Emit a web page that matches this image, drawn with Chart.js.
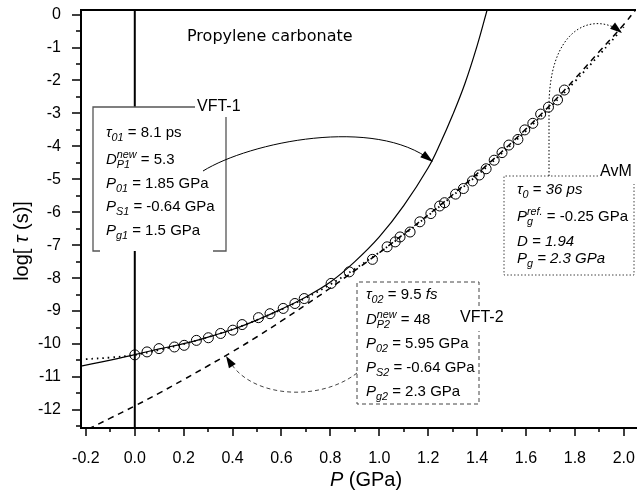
<!DOCTYPE html>
<html>
<head>
<meta charset="utf-8">
<script src="https://cdn.jsdelivr.net/npm/chart.js@4.4.1/dist/chart.umd.min.js"></script>
<style>
  html, body { margin: 0; padding: 0; background: #fff; }
  canvas { display: block; }
</style>
</head>
<body>
<canvas id="chart" width="642" height="493"></canvas>
<script>
'use strict';

// measured points (pressure in GPa, log10 tau in s)
const pData = [0.000, 0.050, 0.099, 0.162, 0.202, 0.252, 0.301, 0.351, 0.401, 0.439, 0.506, 0.553, 0.607, 0.655, 0.693, 0.803, 0.877,
    0.972, 1.032, 1.065, 1.085, 1.126, 1.166, 1.211, 1.247, 1.267, 1.312, 1.344, 1.381, 1.409, 1.437, 1.470, 1.502, 1.530, 1.567,
    1.595, 1.628, 1.660, 1.692, 1.729, 1.757];
const logTauData = [-10.33, -10.24, -10.14, -10.09, -10.04, -9.89, -9.81, -9.68, -9.58, -9.41, -9.20, -9.08, -8.92, -8.77, -8.62, -8.16, -7.81,
    -7.43, -7.05, -6.90, -6.75, -6.60, -6.29, -6.04, -5.81, -5.71, -5.45, -5.28, -5.05, -4.87, -4.68, -4.42, -4.19, -3.96, -3.79,
    -3.50, -3.30, -3.02, -2.81, -2.59, -2.29];

// VFT-1 fit (solid)
const pVft1 = [-0.22, -0.1, 0.0, 0.1, 0.2, 0.3, 0.4, 0.5, 0.6, 0.7, 0.8, 0.9, 1.0, 1.1, 1.2, 1.25, 1.3, 1.35, 1.4, 1.441];
const logVft1 = [-10.67, -10.49, -10.32, -10.15, -9.99, -9.79, -9.56, -9.27, -8.94, -8.57, -8.12, -7.5, -6.75, -5.8, -4.65, -3.9, -3.05, -2.1, -0.95, 0.14];

// VFT-2 fit (dashed)
const pVft2 = [-0.19, -0.1, 0.0, 0.1, 0.2, 0.3, 0.4, 0.5, 0.6, 0.7, 0.8, 0.9, 1.0, 1.1, 1.2, 1.3, 1.4, 1.5, 1.6, 1.7, 1.8, 1.9, 2.0, 2.05];
const logVft2 = [-12.58, -12.25, -11.88, -11.49, -11.08, -10.66, -10.23, -9.78, -9.3, -8.81, -8.3, -7.77, -7.23, -6.66, -6.08, -5.47, -4.83, -4.17, -3.47, -2.74, -1.95, -1.12, -0.3, 0.16];

// AvM fit (dotted)
const pAvm = [-0.2, -0.1, 0.0, 0.1, 0.2, 0.3, 0.4, 0.5, 0.6, 0.7, 0.8, 0.9, 1.0, 1.1, 1.2, 1.3, 1.4, 1.5, 1.6, 1.7, 1.8, 1.9, 2.0];
const logAvm = [-10.46, -10.41, -10.33, -10.18, -10.0, -9.79, -9.55, -9.27, -8.95, -8.6, -8.19, -7.72, -7.22, -6.68, -6.1, -5.5, -4.88, -4.22, -3.53, -2.8, -2.03, -1.22, -0.38];

const xTicks = [-0.2, 0.0, 0.2, 0.4, 0.6, 0.8, 1.0, 1.2, 1.4, 1.6, 1.8, 2.0];
const xMinor = [-0.1, 0.1, 0.3, 0.5, 0.7, 0.9, 1.1, 1.3, 1.5, 1.7, 1.9];
const yTicks = [0, -1, -2, -3, -4, -5, -6, -7, -8, -9, -10, -11, -12];
const yMinor = [-0.5, -1.5, -2.5, -3.5, -4.5, -5.5, -6.5, -7.5, -8.5, -9.5, -10.5, -11.5, -12.5];

const X_MIN = -0.22, X_MAX = 2.05;
const Y_MIN = -12.55, Y_MAX = 0.14;

const FONT = '"Liberation Sans", Arial, sans-serif';
const zip = (xs, ys) => xs.map((x, i) => ({ x, y: ys[i] }));

function drawRich(ctx, x, y, parts, size) {
    let cx = x;
    const small = size * 0.72;
    for (const [txt, kind] of parts) {
        if (kind === 'st') {
            const [sup, sub] = txt.split('|');
            ctx.font = `italic ${small}px ${FONT}`;
            ctx.fillText(sup, cx, y - size * 0.36);
            ctx.fillText(sub, cx, y + size * 0.34);
            cx += Math.max(ctx.measureText(sup).width, ctx.measureText(sub).width);
        } else if (kind === 'b') {
            ctx.font = `italic ${small}px ${FONT}`;
            ctx.fillText(txt, cx, y + size * 0.34);
            cx += ctx.measureText(txt).width;
        } else {
            ctx.font = `${kind === 'i' ? 'italic ' : ''}${size}px ${FONT}`;
            ctx.fillText(txt, cx, y);
            cx += ctx.measureText(txt).width;
        }
    }
    return cx;
}

function arrowHead(ctx, fx, fy, tx, ty, len, half) {
    const a = Math.atan2(ty - fy, tx - fx);
    ctx.beginPath();
    ctx.moveTo(tx, ty);
    ctx.lineTo(tx - len * Math.cos(a) + half * Math.sin(a), ty - len * Math.sin(a) - half * Math.cos(a));
    ctx.lineTo(tx - len * Math.cos(a) - half * Math.sin(a), ty - len * Math.sin(a) + half * Math.cos(a));
    ctx.closePath();
    ctx.fill();
}

const vft1Lines = [
    [['τ', 'i'], ['01', 'b'], [' = 8.1 ps', 'n']],
    [['D', 'i'], ['new|P1', 'st'], [' = 5.3', 'n']],
    [['P', 'i'], ['01', 'b'], [' = 1.85 GPa', 'n']],
    [['P', 'i'], ['S1', 'b'], [' = -0.64 GPa', 'n']],
    [['P', 'i'], ['g1', 'b'], [' = 1.5 GPa', 'n']]
];
const vft2Lines = [
    [['τ', 'i'], ['02', 'b'], [' = 9.5 ', 'n'], ['fs', 'i']],
    [['D', 'i'], ['new|P2', 'st'], [' = 48', 'n']],
    [['P', 'i'], ['02', 'b'], [' = 5.95 GPa', 'n']],
    [['P', 'i'], ['S2', 'b'], [' = -0.64 GPa', 'n']],
    [['P', 'i'], ['g2', 'b'], [' = 2.3 GPa', 'n']]
];
const avmLines = [
    [['τ', 'i'], ['0', 'b'], [' = ', 'n'], ['36 ps', 'i']],
    [['P', 'i'], ['ref.|g', 'st'], [' = -0.25 GPa', 'n']],
    [['D = 1.94', 'i']],
    [['P', 'i'], ['g', 'b'], [' = 2.3 GPa', 'i']]
];

const decor = {
    id: 'decor',
    afterDatasetsDraw(chart) {
        const ctx = chart.ctx;
        ctx.save();
        ctx.textBaseline = 'middle';
        ctx.textAlign = 'left';

        // VFT-1 box
        ctx.fillStyle = '#fff';
        ctx.fillRect(93, 107, 133, 144);
        ctx.strokeStyle = '#555';
        ctx.lineWidth = 1.3;
        ctx.beginPath();
        ctx.moveTo(100, 251); ctx.lineTo(93, 251); ctx.lineTo(93, 107); ctx.lineTo(195, 107);
        ctx.moveTo(226, 117); ctx.lineTo(226, 251); ctx.lineTo(213, 251);
        ctx.stroke();
        ctx.fillStyle = '#000';
        ctx.font = `16px ${FONT}`;
        ctx.fillText('VFT-1', 197, 107);
        [133, 160, 184, 207, 231].forEach((y, i) => drawRich(ctx, 106, y, vft1Lines[i], 15));

        // arrow VFT-1 -> solid curve
        ctx.strokeStyle = '#000';
        ctx.lineWidth = 1;
        ctx.beginPath();
        ctx.moveTo(203, 171);
        ctx.bezierCurveTo(250, 142, 375, 116, 432, 161);
        ctx.stroke();
        arrowHead(ctx, 412, 146, 433, 162, 13, 4);

        // VFT-2 box
        ctx.fillStyle = '#fff';
        ctx.fillRect(357, 282, 122, 122);
        ctx.strokeStyle = '#444';
        ctx.lineWidth = 1;
        ctx.setLineDash([4, 3]);
        ctx.beginPath();
        ctx.moveTo(479, 306); ctx.lineTo(479, 282); ctx.lineTo(357, 282); ctx.lineTo(357, 404); ctx.lineTo(479, 404); ctx.lineTo(479, 331);
        ctx.stroke();
        // dashed arrow to VFT-2 curve
        ctx.beginPath();
        ctx.moveTo(357, 373);
        ctx.bezierCurveTo(320, 402, 252, 398, 230, 362);
        ctx.stroke();
        ctx.setLineDash([]);
        ctx.fillStyle = '#000';
        arrowHead(ctx, 236, 372, 226, 356, 12, 4);
        ctx.font = `16px ${FONT}`;
        ctx.fillText('VFT-2', 460, 318);
        [295, 320, 344, 368, 392].forEach((y, i) => drawRich(ctx, 366, y, vft2Lines[i], 15));

        // AvM box
        ctx.fillStyle = '#fff';
        ctx.fillRect(504, 176, 130, 99);
        ctx.strokeStyle = '#444';
        ctx.lineWidth = 1;
        ctx.setLineDash([1.5, 2]);
        ctx.beginPath();
        ctx.moveTo(598, 176); ctx.lineTo(504, 176); ctx.lineTo(504, 275); ctx.lineTo(634, 275); ctx.lineTo(634, 184);
        ctx.stroke();
        // dotted arrow to AvM curve
        ctx.strokeStyle = '#000';
        ctx.beginPath();
        ctx.moveTo(549, 176);
        ctx.lineTo(549, 110);
        ctx.bezierCurveTo(548, 30, 590, 12, 619, 30);
        ctx.stroke();
        ctx.setLineDash([]);
        ctx.fillStyle = '#000';
        arrowHead(ctx, 608, 22, 622, 33, 12, 4);
        ctx.font = `16px ${FONT}`;
        ctx.fillText('AvM', 600, 172);
        [190, 217, 242, 259].forEach((y, i) => drawRich(ctx, 517, y, avmLines[i], 15));

        ctx.restore();
    },
    afterDraw(chart) {
        const ctx = chart.ctx;
        const { left, right, top, bottom } = chart.chartArea;
        const xs = chart.scales.x, ys = chart.scales.y;
        ctx.save();
        ctx.strokeStyle = '#000';
        // top frame line
        ctx.lineWidth = 2;
        ctx.beginPath();
        ctx.moveTo(left, top); ctx.lineTo(right, top);
        ctx.stroke();
        // tick marks
        ctx.lineWidth = 1.5;
        ctx.beginPath();
        xTicks.forEach(v => { const px = Math.round(xs.getPixelForValue(v)); ctx.moveTo(px, bottom); ctx.lineTo(px, bottom + 8); });
        xMinor.forEach(v => { const px = Math.round(xs.getPixelForValue(v)); ctx.moveTo(px, bottom); ctx.lineTo(px, bottom + 4); });
        yTicks.forEach(v => { const py = Math.round(ys.getPixelForValue(v)); ctx.moveTo(left, py); ctx.lineTo(left - 9, py); });
        yMinor.forEach(v => { const py = Math.round(ys.getPixelForValue(v)); ctx.moveTo(left, py); ctx.lineTo(left - 5, py); });
        ctx.stroke();

        // titles
        ctx.fillStyle = '#000';
        ctx.textBaseline = 'middle';
        ctx.font = `16px "DejaVu Sans", sans-serif`;
        ctx.fillText('Propylene carbonate', 187, 37);

        ctx.font = `italic 20px ${FONT}`;
        const wP = ctx.measureText('P').width;
        ctx.font = `20px ${FONT}`;
        const wRest = ctx.measureText(' (GPa)').width;
        drawRich(ctx, 366 - (wP + wRest) / 2, 480, [['P', 'i'], [' (GPa)', 'n']], 20);

        ctx.translate(22, 241);
        ctx.rotate(-Math.PI / 2);
        const parts = [['log[ ', 'n'], ['τ', 'i'], [' (s)]', 'n']];
        let w = 0;
        parts.forEach(([t, k]) => { ctx.font = `${k === 'i' ? 'italic ' : ''}20px ${FONT}`; w += ctx.measureText(t).width; });
        drawRich(ctx, -w / 2, 0, parts, 20);
        ctx.restore();
    }
};

new Chart(document.getElementById('chart'), {
    type: 'scatter',
    data: {
        datasets: [
            {
                label: 'P = 0', type: 'line', data: [{ x: 0, y: Y_MIN }, { x: 0, y: Y_MAX }],
                borderColor: '#000', borderWidth: 2, pointRadius: 0
            },
            {
                label: 'VFT-1', type: 'line', data: zip(pVft1, logVft1),
                borderColor: '#000', borderWidth: 1.2, pointRadius: 0, tension: 0.4
            },
            {
                label: 'VFT-2', type: 'line', data: zip(pVft2, logVft2),
                borderColor: '#000', borderWidth: 1.5, borderDash: [6, 5], pointRadius: 0, tension: 0.4
            },
            {
                label: 'AvM', type: 'line', data: zip(pAvm, logAvm),
                borderColor: '#000', borderWidth: 1.8, borderDash: [1.5, 4], pointRadius: 0, tension: 0.4
            },
            {
                label: 'data', data: zip(pData, logTauData),
                pointStyle: 'circle', pointRadius: 5, borderColor: '#000', borderWidth: 1, backgroundColor: 'rgba(0,0,0,0)'
            }
        ]
    },
    options: {
        responsive: false,
        animation: false,
        devicePixelRatio: 1,
        layout: { padding: { top: 10, right: 0, left: 0, bottom: 0 } },
        plugins: { legend: { display: false }, tooltip: { enabled: false } },
        scales: {
            x: {
                type: 'linear', min: X_MIN, max: X_MAX,
                grid: { display: false },
                border: { display: true, color: '#000', width: 2 },
                afterBuildTicks: s => { s.ticks = xTicks.map(v => ({ value: v })); },
                afterFit: s => { s.height = 65; s.paddingLeft = 0; s.paddingRight = 0; },
                ticks: { color: '#000', padding: 13, maxRotation: 0, autoSkip: false, font: { family: FONT, size: 16 }, callback: v => v.toFixed(1) }
            },
            y: {
                type: 'linear', min: Y_MIN, max: Y_MAX,
                grid: { display: false },
                border: { display: true, color: '#000', width: 2 },
                afterBuildTicks: s => { s.ticks = yTicks.map(v => ({ value: v })); },
                afterFit: s => { s.width = 81; s.paddingTop = 0; s.paddingBottom = 0; },
                ticks: { color: '#000', padding: 12, autoSkip: false, font: { family: FONT, size: 16 }, callback: v => String(v) }
            }
        }
    },
    plugins: [decor]
});
</script>
</body>
</html>
